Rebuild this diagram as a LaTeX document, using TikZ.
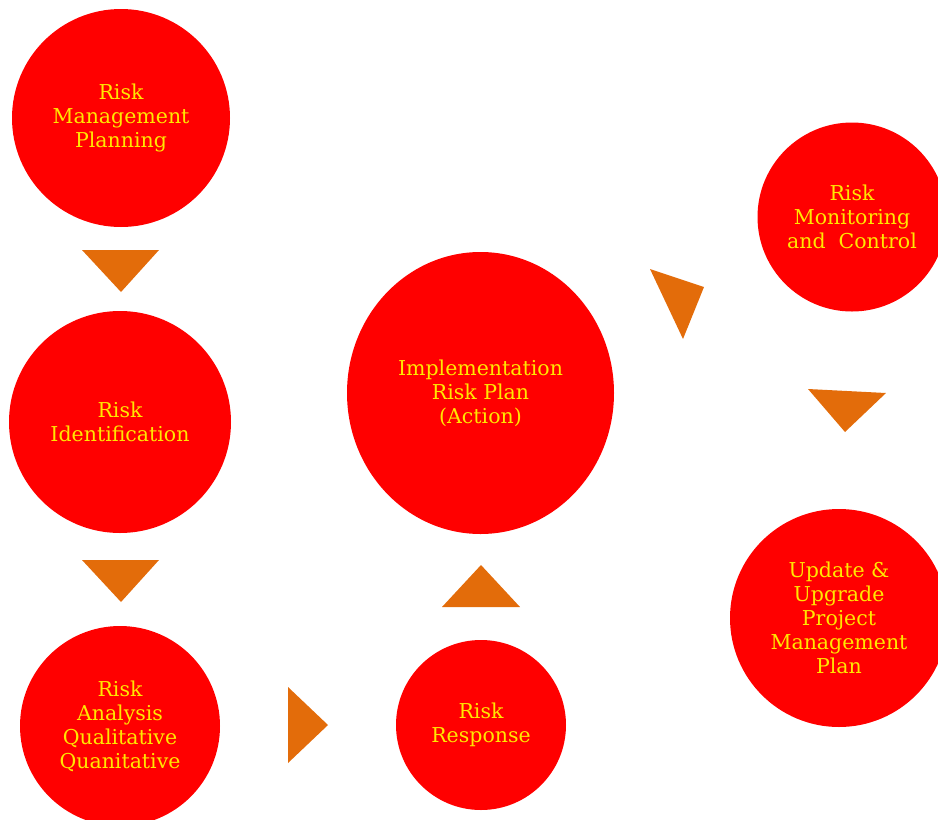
\documentclass[tikz,border=0pt]{standalone}
\usepackage{fontspec}
\setmainfont{DejaVu Serif}
\usetikzlibrary{shapes.geometric}
\definecolor{redfill}{RGB}{255,0,0}
\definecolor{txtyellow}{RGB}{255,232,0}
\definecolor{triorange}{RGB}{227,108,10}
\begin{document}
\begin{tikzpicture}[x=1pt,y=-1pt,
  stage/.style={circle,fill=redfill,draw=none,inner sep=0pt,text=txtyellow,align=center,
    font=\fontsize{20.5}{24}\selectfont},
  tri/.style={fill=triorange,draw=none}]
\useasboundingbox (0,0) rectangle (938,820);
\clip (0,0) rectangle (938,820);
% stages
\node[stage,minimum size=218pt] (rmp) at (121,118) {Risk\\Management\\Planning};
\node[stage,minimum size=222pt] (rid) at (120,422) {Risk\\Identification};
\node[stage,minimum size=200pt] (ran) at (120,726) {Risk\\Analysis\\Qualitative\\Quanitative};
\node[stage,minimum size=170pt] (rre) at (481,725) {Risk\\Response};
\node[stage,ellipse,minimum width=267pt,minimum height=282pt] (imp) at (480.5,393) {Implementation\\Risk Plan\\(Action)};
\node[stage,minimum size=189pt] (rmc) at (852,217) {Risk\\Monitoring\\and~~Control};
\node[stage,minimum size=218pt] (upd) at (839,618) {Update \&\\Upgrade\\Project\\Management\\Plan};
% arrow triangles
\fill[tri] (82,250) -- (159,250) -- (121,292) -- cycle;
\fill[tri] (82,560) -- (159,560) -- (121,602) -- cycle;
\fill[tri] (288,687) -- (328,725) -- (288,763) -- cycle;
\fill[tri] (442,607) -- (481,565) -- (520,607) -- cycle;
\fill[tri] (650,269) -- (704,287) -- (683,339) -- cycle;
\fill[tri] (808,389) -- (886,393) -- (845,432) -- cycle;
\end{tikzpicture}
\end{document}
